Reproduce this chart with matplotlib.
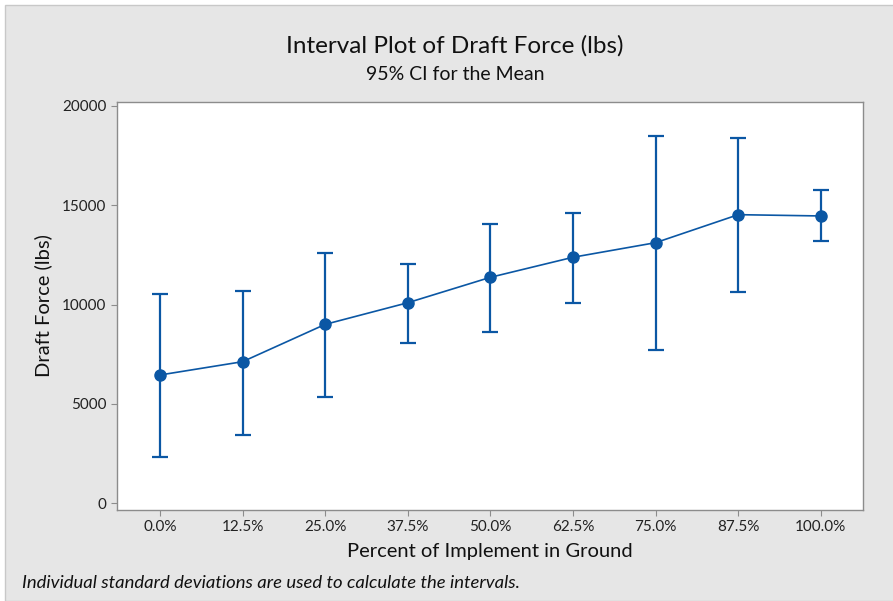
import matplotlib
matplotlib.use("Agg")
import matplotlib.pyplot as plt
from matplotlib.patches import Rectangle

# data
categories = ["0.0%", "12.5%", "25.0%", "37.5%", "50.0%", "62.5%", "75.0%", "87.5%", "100.0%"]
means = [6450, 7120, 9000, 10090, 11370, 12380, 13115, 14525, 14460]
upper = [10530, 10695, 12610, 12040, 14040, 14595, 18505, 18390, 15750]
lower = [2335, 3410, 5325, 8045, 8630, 10060, 7690, 10615, 13185]
y_ticks = [0, 5000, 10000, 15000, 20000]

blue = "#0b57a4"
gray_bg = "#e6e6e6"
font = "Lato"

fig = plt.figure(figsize=(8.93, 6.01), dpi=100)
fig.patch.set_facecolor("white")
fig.patches.append(Rectangle((5 / 893, 0), 1, 1 - 5 / 601, transform=fig.transFigure,
                             facecolor=gray_bg, edgecolor="#c8c8c8", lw=1.0, zorder=-10))

ax = fig.add_axes([117 / 893, 1 - 510 / 601, (863 - 117) / 893, (510 - 102) / 601])
ax.set_facecolor("white")

x = list(range(len(categories)))
yerr = [[m - lo for m, lo in zip(means, lower)], [hi - m for m, hi in zip(means, upper)]]
ax.errorbar(x, means, yerr=yerr, fmt="none", ecolor=blue, elinewidth=1.6, capsize=6, capthick=1.6)
ax.plot(x, means, color=blue, lw=1.2, marker="o", markersize=8, markerfacecolor=blue,
        markeredgecolor=blue)

ax.set_xlim(-0.52, 8.51)
ax.set_ylim(-350, 20200)
ax.set_xticks(x)
ax.set_xticklabels(categories)
ax.set_yticks(y_ticks)
ax.set_yticklabels([str(v) for v in y_ticks])

for s in ax.spines.values():
    s.set_color("#8c8c8c")
    s.set_linewidth(1.0)
ax.tick_params(axis="both", colors="#8c8c8c", labelcolor="#222222", labelsize=11,
               length=4, width=0.8)
for lab in ax.get_xticklabels() + ax.get_yticklabels():
    lab.set_family(font)

ax.set_xlabel("Percent of Implement in Ground", fontsize=14.5, family=font, color="#111111", labelpad=6)
ax.set_ylabel("Draft Force (lbs)", fontsize=14.5, family=font, color="#111111", labelpad=7)

fig.text(455 / 893, 1 - 46 / 601, "Interval Plot of Draft Force (lbs)", ha="center", va="center",
         fontsize=17.5, family=font, color="#111111")
fig.text(455 / 893, 1 - 74 / 601, "95% CI for the Mean", ha="center", va="center",
         fontsize=14, family=font, color="#111111")
fig.text(22 / 893, 1 - 583 / 601, "Individual standard deviations are used to calculate the intervals.",
         ha="left", va="center", fontsize=13.3, style="italic", family=font, color="#111111")

fig.savefig("out.png", dpi=100, facecolor=fig.get_facecolor())
